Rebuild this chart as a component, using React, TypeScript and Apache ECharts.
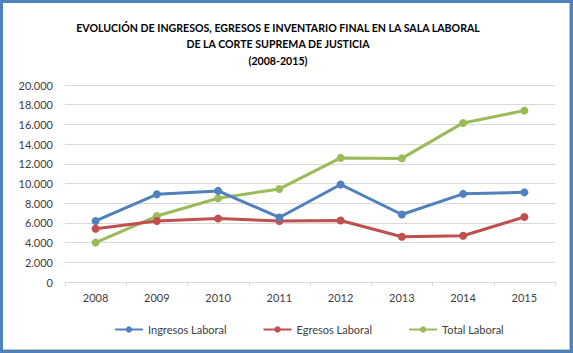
import React, { useEffect, useRef } from "react";
import * as echarts from "echarts";

const years = ["2008", "2009", "2010", "2011", "2012", "2013", "2014", "2015"];
const ingresos = [6200, 8900, 9250, 6550, 9900, 6850, 8950, 9100];
const egresos = [5400, 6200, 6450, 6200, 6250, 4600, 4700, 6600];
const total = [4000, 6700, 8500, 9450, 12600, 12550, 16150, 17400];
const titleLines = [
  "EVOLUCIÓN DE INGRESOS, EGRESOS E INVENTARIO FINAL EN LA SALA LABORAL",
  "DE LA CORTE SUPREMA DE JUSTICIA",
  "(2008-2015)",
];
const seriesNames = ["Ingresos Laboral", "Egresos Laboral", "Total Laboral"];
const colors = ["#4F81BD", "#C0504D", "#9BBB59"];

const FONT = "Lato, 'Open Sans', sans-serif";

export default function App() {
  const ref = useRef<HTMLDivElement>(null);
  useEffect(() => {
    if (!ref.current) return;
    const chart = echarts.init(ref.current, undefined, { renderer: "svg" });
    const data = [ingresos, egresos, total];
    chart.setOption({
      animation: false,
      backgroundColor: "#ffffff",
      textStyle: { fontFamily: FONT },
      graphic: titleLines.map((t, i) => ({
        type: "text",
        x: 278,
        y: 27.5 + i * 16.5,
        style: {
          text: t,
          align: "center",
          verticalAlign: "middle",
          font: `bold 10.6px ${FONT}`,
          fill: "#000000",
        },
      })),
      grid: { left: 65, right: 18, top: 85, bottom: 71, containLabel: false },
      legend: {
        left: 114,
        top: 324,
        padding: 0,
        itemWidth: 28,
        itemHeight: 8,
        itemGap: 36,
        textStyle: { fontSize: 11, color: "#404040", fontFamily: FONT },
        data: seriesNames,
      },
      xAxis: {
        type: "category",
        data: years,
        boundaryGap: true,
        axisLine: { show: true, lineStyle: { color: "#d9d9d9", width: 1 } },
        axisTick: { show: true, length: 4, lineStyle: { color: "#d9d9d9" } },
        axisLabel: { fontSize: 11, color: "#404040", margin: 10, fontFamily: FONT },
      },
      yAxis: {
        type: "value",
        min: 0,
        max: 20000,
        interval: 2000,
        axisLine: { show: false },
        axisTick: { show: false },
        splitLine: { lineStyle: { color: "#d9d9d9", width: 1 } },
        axisLabel: {
          fontSize: 11,
          color: "#404040",
          margin: 12,
          fontFamily: FONT,
          formatter: (v: number) =>
            v === 0 ? "0" : v.toString().replace(/\B(?=(\d{3})+(?!\d))/g, "."),
        },
      },
      series: seriesNames.map((name, i) => ({
        name,
        type: "line",
        data: data[i],
        symbol: "circle",
        symbolSize: 8,
        lineStyle: { width: 3, color: colors[i] },
        itemStyle: { color: colors[i] },
        z: 3 - i,
      })),
    });
    return () => chart.dispose();
  }, []);
  return (
    <div style={{ position: "fixed", left: 0, top: 0, width: 573, height: 353 }}>
      <div ref={ref} style={{ width: 573, height: 353 }} />
      <div
        style={{
          position: "absolute",
          left: 0,
          top: 0,
          width: 573,
          height: 353,
          boxSizing: "border-box",
          border: "3px solid #4F81BD",
          boxShadow: "inset -1px -1px 0 #c0c0c0",
          pointerEvents: "none",
        }}
      />
    </div>
  );
}
